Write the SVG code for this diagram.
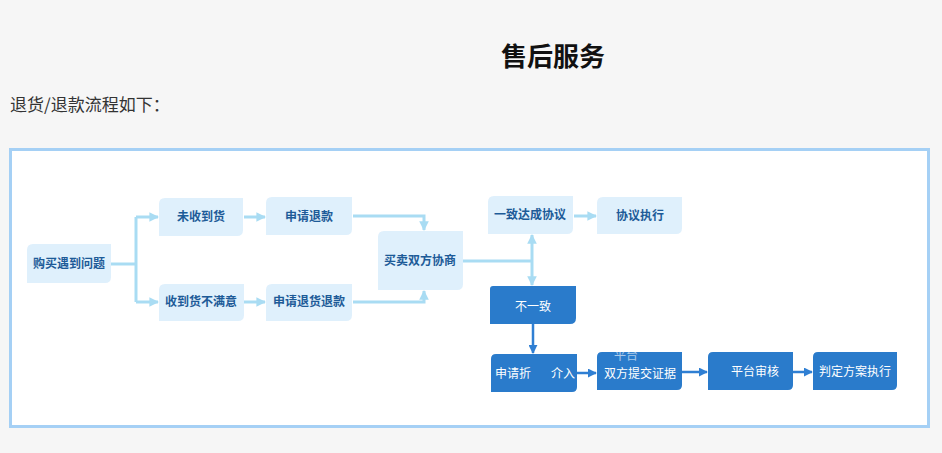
<svg xmlns="http://www.w3.org/2000/svg" width="942" height="453" viewBox="0 0 942 453">
<defs>
<style>
.bg{fill:#f6f6f6}
.frame{fill:#fff;stroke:#a5d0f5;stroke-width:3}
.lt{fill:#dff0fc}
.dk{fill:#2a7bcb}
.tl{font-family:"Noto Sans CJK SC","Noto Sans",sans-serif;font-size:12px;fill:#1d5b98;text-anchor:middle;font-weight:bold}
.td{font-family:"Noto Sans CJK SC","Noto Sans",sans-serif;font-size:12px;fill:#fff;text-anchor:middle}
.cl{fill:none;stroke:#a9dcf3;stroke-width:3}
.cd{fill:none;stroke:#2f7fd3;stroke-width:2.5}
</style>
<marker id="al" viewBox="0 0 10 10" refX="9" refY="5" markerWidth="3.2" markerHeight="3.2" orient="auto" markerUnits="strokeWidth"><path d="M0,0 L10,5 L0,10 Z" fill="#a9dcf3"/></marker>
<marker id="ad" viewBox="0 0 10 10" refX="9" refY="5" markerWidth="3.6" markerHeight="3.6" orient="auto" markerUnits="strokeWidth"><path d="M0,0 L10,5 L0,10 Z" fill="#2f7fd3"/></marker>
</defs>
<rect class="bg" x="0" y="0" width="942" height="453"/>
<text x="553" y="66" font-family="'Noto Sans CJK SC','Noto Sans',sans-serif" font-size="26" font-weight="bold" fill="#111" text-anchor="middle">售后服务</text>
<text x="10" y="111" font-family="'Noto Sans CJK SC','Noto Sans',sans-serif" font-size="17" fill="#333">退货/退款流程如下：</text>
<rect class="frame" x="10.5" y="149.5" width="918" height="277"/>

<g id="connectors">
<path class="cl" d="M111,264 H136"/>
<path class="cl" d="M136,217 V302"/>
<path class="cl" d="M136,217 H158" marker-end="url(#al)"/>
<path class="cl" d="M136,302 H158" marker-end="url(#al)"/>
<path class="cl" d="M244,217 H265" marker-end="url(#al)"/>
<path class="cl" d="M244,302 H265" marker-end="url(#al)"/>
<path class="cl" d="M353,216 H424 V230" marker-end="url(#al)"/>
<path class="cl" d="M353,302 H424 V291" marker-end="url(#al)"/>
<path class="cl" d="M463,261 H532"/>
<path class="cl" d="M532,261 V235" marker-end="url(#al)"/>
<path class="cl" d="M532,261 V285" marker-end="url(#al)"/>
<path class="cl" d="M574,216 H596" marker-end="url(#al)"/>
<path class="cd" d="M533,324 V353" marker-end="url(#ad)"/>
<path class="cd" d="M577,373 H596" marker-end="url(#ad)"/>
<path class="cd" d="M682,372 H707" marker-end="url(#ad)"/>
<path class="cd" d="M793,372 H812" marker-end="url(#ad)"/>
</g>

<g id="n1"><path class="lt" d="M33,244 H111 V277 Q111,283 105,283 H27 V250 Q27,244 33,244 Z"/><text class="tl" x="69" y="268">购买遇到问题</text></g>
<g id="n2"><path class="lt" d="M165,198 H243 V230 Q243,236 237,236 H159 V204 Q159,198 165,198 Z"/><text class="tl" x="201" y="221">未收到货</text></g>
<g id="n3"><path class="lt" d="M272,197 H352 V229 Q352,235 346,235 H266 V203 Q266,197 272,197 Z"/><text class="tl" x="309" y="221">申请退款</text></g>
<g id="n4"><path class="lt" d="M165,284 H244 V315 Q244,321 238,321 H159 V290 Q159,284 165,284 Z"/><text class="tl" x="201" y="306">收到货不满意</text></g>
<g id="n5"><path class="lt" d="M272,284 H352 V315 Q352,321 346,321 H266 V290 Q266,284 272,284 Z"/><text class="tl" x="309" y="306">申请退货退款</text></g>
<g id="n6"><path class="lt" d="M384,231 H463 V284 Q463,290 457,290 H378 V237 Q378,231 384,231 Z"/><text class="tl" x="420" y="265">买卖双方协商</text></g>
<g id="n7"><path class="lt" d="M494,196 H573 V228 Q573,234 567,234 H488 V202 Q488,196 494,196 Z"/><text class="tl" x="530" y="219">一致达成协议</text></g>
<g id="n8"><path class="lt" d="M603,197 H682 V228 Q682,234 676,234 H597 V203 Q597,197 603,197 Z"/><text class="tl" x="640" y="220">协议执行</text></g>
<g id="n9"><path class="dk" d="M493,286 H576 V318 Q576,324 570,324 H490 V289 Q490,286 493,286 Z"/><text class="td" x="533" y="311">不一致</text></g>
<g id="n10"><path class="dk" d="M496,354 H577 V387 Q577,392 572,392 H491 V359 Q491,354 496,354 Z"/><text class="td" x="513" y="378">申请折</text><text class="td" x="563" y="378">介入</text></g>
<g id="n11"><path class="dk" d="M602,352 H682 V385 Q682,390 677,390 H597 V357 Q597,352 602,352 Z"/><text class="td" x="626" y="360" font-size="8" opacity="0.6">平台</text><text class="td" x="640" y="378">双方提交证据</text></g>
<g id="n12"><path class="dk" d="M713,352 H793 V385 Q793,390 788,390 H708 V357 Q708,352 713,352 Z"/><text class="td" x="755" y="376">平台审核</text></g>
<g id="n13"><path class="dk" d="M818,352 H897 V385 Q897,390 892,390 H813 V357 Q813,352 818,352 Z"/><text class="td" x="855" y="376">判定方案执行</text></g>
</svg>
